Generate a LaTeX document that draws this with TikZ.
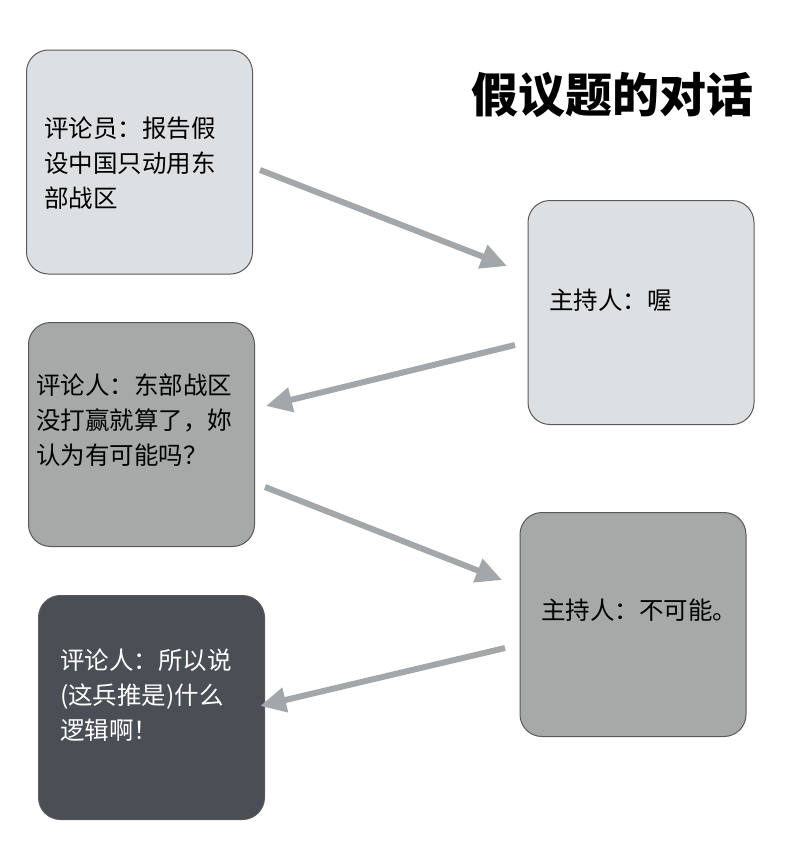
\documentclass[tikz,border=0pt]{standalone}
\usepackage{fontspec}
\setmainfont{Noto Sans CJK SC}
\usetikzlibrary{arrows.meta}
\definecolor{boxlight}{HTML}{DDE0E3}
\definecolor{boxmid}{HTML}{A6A9A8}
\definecolor{boxdark}{HTML}{4A4F55}
\definecolor{arrowgray}{HTML}{A3A7A9}
\tikzset{
  card/.style={draw=gray!70!black, line width=1pt, rounded corners=22pt,
    minimum width=226pt, minimum height=224pt, inner sep=0pt},
  words/.style={anchor=west, align=left, font=\fontsize{24.5}{35}\selectfont, inner sep=0pt},
  flow/.style={line width=6pt, arrowgray, line cap=butt,
    -{Triangle[length=26pt,width=24pt]}}
}
\begin{document}
\begin{tikzpicture}[x=1pt,y=-1pt]
  \useasboundingbox (0,0) rectangle (800,854);
  % cards
  \node[card, fill=boxlight] (c1) at (139.5,162) {};
  \node[words] (t1) at (44,163) {评论员：报告假\\设中国只动用东\\部战区};
  \node[card, fill=boxlight] (c2) at (641,312.5) {};
  \node[words] (t2) at (549,300) {主持人：喔};
  \node[card, fill=boxmid] (c3) at (141.5,434.5) {};
  \node[words] (t3) at (36,420) {评论人：东部战区\\没打赢就算了，妳\\认为有可能吗？};
  \node[card, fill=boxmid] (c4) at (633,624.5) {};
  \node[words] (t4) at (541,610) {主持人：不可能。};
  \node[card, fill=boxdark] (c5) at (151.5,707.5) {};
  \node[words, text=white] (t5) at (60,695) {评论人：所以说\\(这兵推是)什么\\逻辑啊！};
  % title
  \node[font=\bfseries\fontsize{47}{49}\selectfont] (title) at (612,95) {假议题的对话};
  % arrows
  \coordinate (a1s) at (260,170); \coordinate (a1e) at (507,266);
  \coordinate (a2s) at (515,345); \coordinate (a2e) at (266,406);
  \coordinate (a3s) at (265,487); \coordinate (a3e) at (502,580);
  \coordinate (a4s) at (505,648); \coordinate (a4e) at (260,706);
  \draw[flow] (a1s) -- (a1e);
  \draw[flow] (a2s) -- (a2e);
  \draw[flow] (a3s) -- (a3e);
  \draw[flow] (a4s) -- (a4e);
\end{tikzpicture}
\end{document}
